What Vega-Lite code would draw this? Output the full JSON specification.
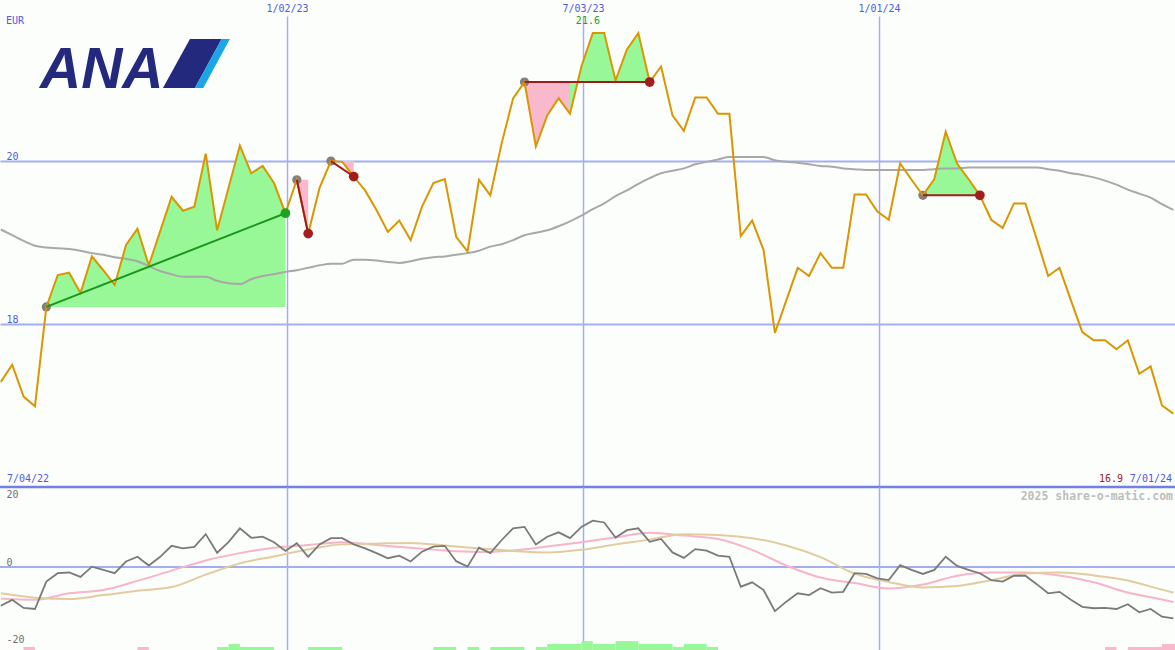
{
  "$schema": "https://vega.github.io/schema/vega-lite/v6.json",
  "background": "#fcfefc",
  "padding": {"left": -4, "top": 0, "right": 0, "bottom": 0},
  "spacing": 0,
  "bounds": "flush",
  "config": {
    "view": {"stroke": null},
    "font": "DejaVu Sans Mono",
    "axis": {"labelFont": "DejaVu Sans Mono", "labelFontSize": 10, "titleFont": "DejaVu Sans Mono"}
  },
  "datasets": {
    "one": [{}],
    "px": [
      {"d":"2022/07/10","p":17.29,"ma":19.16,"m":-10.6},
      {"d":"2022/07/17","p":17.50,"ma":19.09,"m":-9.0},
      {"d":"2022/07/24","p":17.11,"ma":19.02,"m":-11.2},
      {"d":"2022/07/31","p":16.99,"ma":18.96,"m":-11.5},
      {"d":"2022/08/07","p":18.21,"ma":18.94,"m":-4.0},
      {"d":"2022/08/14","p":18.60,"ma":18.93,"m":-1.7},
      {"d":"2022/08/21","p":18.63,"ma":18.92,"m":-1.5},
      {"d":"2022/08/28","p":18.38,"ma":18.90,"m":-2.7},
      {"d":"2022/09/04","p":18.83,"ma":18.87,"m":0.1},
      {"d":"2022/09/11","p":18.66,"ma":18.85,"m":-0.8},
      {"d":"2022/09/18","p":18.48,"ma":18.82,"m":-1.7},
      {"d":"2022/09/25","p":18.97,"ma":18.80,"m":1.5},
      {"d":"2022/10/02","p":19.17,"ma":18.77,"m":2.8},
      {"d":"2022/10/09","p":18.72,"ma":18.71,"m":0.4},
      {"d":"2022/10/16","p":19.14,"ma":18.65,"m":2.8},
      {"d":"2022/10/23","p":19.56,"ma":18.61,"m":5.8},
      {"d":"2022/10/30","p":19.39,"ma":18.58,"m":5.1},
      {"d":"2022/11/06","p":19.44,"ma":18.58,"m":5.5},
      {"d":"2022/11/13","p":20.09,"ma":18.58,"m":9.0},
      {"d":"2022/11/20","p":19.15,"ma":18.53,"m":3.9},
      {"d":"2022/11/27","p":19.67,"ma":18.50,"m":6.8},
      {"d":"2022/12/04","p":20.19,"ma":18.49,"m":10.6},
      {"d":"2022/12/11","p":19.85,"ma":18.55,"m":8.0},
      {"d":"2022/12/18","p":19.94,"ma":18.59,"m":8.3},
      {"d":"2022/12/25","p":19.73,"ma":18.61,"m":6.8},
      {"d":"2023/01/01","p":19.36,"ma":18.64,"m":4.4},
      {"d":"2023/01/08","p":19.77,"ma":18.66,"m":6.5},
      {"d":"2023/01/15","p":19.11,"ma":18.69,"m":2.8},
      {"d":"2023/01/22","p":19.67,"ma":18.72,"m":6.2},
      {"d":"2023/01/29","p":20.00,"ma":18.74,"m":7.9},
      {"d":"2023/02/05","p":19.99,"ma":18.74,"m":7.9},
      {"d":"2023/02/12","p":19.81,"ma":18.79,"m":6.2},
      {"d":"2023/02/19","p":19.64,"ma":18.79,"m":5.1},
      {"d":"2023/02/26","p":19.40,"ma":18.78,"m":3.8},
      {"d":"2023/03/05","p":19.13,"ma":18.76,"m":2.4},
      {"d":"2023/03/12","p":19.27,"ma":18.75,"m":3.1},
      {"d":"2023/03/19","p":19.03,"ma":18.77,"m":1.5},
      {"d":"2023/03/26","p":19.44,"ma":18.80,"m":4.2},
      {"d":"2023/04/02","p":19.73,"ma":18.82,"m":5.6},
      {"d":"2023/04/09","p":19.78,"ma":18.83,"m":5.8},
      {"d":"2023/04/16","p":19.07,"ma":18.85,"m":1.6},
      {"d":"2023/04/23","p":18.89,"ma":18.87,"m":0.1},
      {"d":"2023/04/30","p":19.77,"ma":18.90,"m":5.3},
      {"d":"2023/05/07","p":19.58,"ma":18.95,"m":3.8},
      {"d":"2023/05/14","p":20.22,"ma":18.98,"m":7.4},
      {"d":"2023/05/21","p":20.77,"ma":19.03,"m":10.6},
      {"d":"2023/05/28","p":20.97,"ma":19.09,"m":11.0},
      {"d":"2023/06/04","p":20.18,"ma":19.12,"m":6.2},
      {"d":"2023/06/11","p":20.56,"ma":19.15,"m":8.3},
      {"d":"2023/06/18","p":20.77,"ma":19.20,"m":9.5},
      {"d":"2023/06/25","p":20.58,"ma":19.26,"m":7.9},
      {"d":"2023/07/02","p":21.16,"ma":19.33,"m":11.0},
      {"d":"2023/07/09","p":21.57,"ma":19.41,"m":12.7},
      {"d":"2023/07/16","p":21.57,"ma":19.48,"m":12.2},
      {"d":"2023/07/23","p":20.99,"ma":19.57,"m":8.1},
      {"d":"2023/07/30","p":21.37,"ma":19.64,"m":10.1},
      {"d":"2023/08/06","p":21.57,"ma":19.72,"m":10.6},
      {"d":"2023/08/13","p":20.97,"ma":19.79,"m":6.9},
      {"d":"2023/08/20","p":21.16,"ma":19.85,"m":7.7},
      {"d":"2023/08/27","p":20.56,"ma":19.88,"m":4.0},
      {"d":"2023/09/03","p":20.37,"ma":19.91,"m":2.5},
      {"d":"2023/09/10","p":20.78,"ma":19.96,"m":4.9},
      {"d":"2023/09/17","p":20.78,"ma":19.99,"m":4.5},
      {"d":"2023/09/24","p":20.58,"ma":20.02,"m":3.1},
      {"d":"2023/10/01","p":20.58,"ma":20.05,"m":2.8},
      {"d":"2023/10/08","p":19.08,"ma":20.05,"m":-5.4},
      {"d":"2023/10/15","p":19.27,"ma":20.05,"m":-4.2},
      {"d":"2023/10/22","p":18.91,"ma":20.05,"m":-6.3},
      {"d":"2023/10/29","p":17.89,"ma":20.01,"m":-12.1},
      {"d":"2023/11/05","p":18.29,"ma":19.99,"m":-9.5},
      {"d":"2023/11/12","p":18.69,"ma":19.98,"m":-7.2},
      {"d":"2023/11/19","p":18.59,"ma":19.96,"m":-7.7},
      {"d":"2023/11/26","p":18.87,"ma":19.94,"m":-5.8},
      {"d":"2023/12/03","p":18.69,"ma":19.93,"m":-7.0},
      {"d":"2023/12/10","p":18.69,"ma":19.91,"m":-6.8},
      {"d":"2023/12/17","p":19.59,"ma":19.90,"m":-1.7},
      {"d":"2023/12/24","p":19.59,"ma":19.89,"m":-1.9},
      {"d":"2023/12/31","p":19.38,"ma":19.89,"m":-3.1},
      {"d":"2024/01/07","p":19.28,"ma":19.89,"m":-3.6},
      {"d":"2024/01/14","p":19.97,"ma":19.89,"m":0.5},
      {"d":"2024/01/21","p":19.77,"ma":19.89,"m":-0.8},
      {"d":"2024/01/28","p":19.58,"ma":19.89,"m":-1.9},
      {"d":"2024/02/04","p":19.78,"ma":19.90,"m":-0.8},
      {"d":"2024/02/11","p":20.36,"ma":19.91,"m":2.8},
      {"d":"2024/02/18","p":19.97,"ma":19.91,"m":0.3},
      {"d":"2024/02/25","p":19.78,"ma":19.92,"m":-0.8},
      {"d":"2024/03/03","p":19.58,"ma":19.92,"m":-1.7},
      {"d":"2024/03/10","p":19.28,"ma":19.92,"m":-3.6},
      {"d":"2024/03/17","p":19.18,"ma":19.92,"m":-4.0},
      {"d":"2024/03/24","p":19.48,"ma":19.92,"m":-2.4},
      {"d":"2024/03/31","p":19.48,"ma":19.92,"m":-2.4},
      {"d":"2024/04/07","p":19.04,"ma":19.92,"m":-4.7},
      {"d":"2024/04/14","p":18.59,"ma":19.90,"m":-7.2},
      {"d":"2024/04/21","p":18.69,"ma":19.88,"m":-6.8},
      {"d":"2024/04/28","p":18.29,"ma":19.85,"m":-9.0},
      {"d":"2024/05/05","p":17.90,"ma":19.83,"m":-10.9},
      {"d":"2024/05/12","p":17.80,"ma":19.80,"m":-11.3},
      {"d":"2024/05/19","p":17.80,"ma":19.76,"m":-11.2},
      {"d":"2024/05/26","p":17.69,"ma":19.71,"m":-11.5},
      {"d":"2024/06/02","p":17.80,"ma":19.65,"m":-10.2},
      {"d":"2024/06/09","p":17.39,"ma":19.60,"m":-12.4},
      {"d":"2024/06/16","p":17.48,"ma":19.55,"m":-11.5},
      {"d":"2024/06/23","p":17.00,"ma":19.47,"m":-13.6},
      {"d":"2024/06/30","p":16.90,"ma":19.40,"m":-14.1}
    ],
    "fills": [
      {"s":"A","k":"up","l":18.21,"d":"2022/08/07","p":18.21},
      {"s":"A","k":"up","l":18.21,"d":"2022/08/14","p":18.60},
      {"s":"A","k":"up","l":18.21,"d":"2022/08/21","p":18.63},
      {"s":"A","k":"up","l":18.21,"d":"2022/08/28","p":18.38},
      {"s":"A","k":"up","l":18.21,"d":"2022/09/04","p":18.83},
      {"s":"A","k":"up","l":18.21,"d":"2022/09/11","p":18.66},
      {"s":"A","k":"up","l":18.21,"d":"2022/09/18","p":18.48},
      {"s":"A","k":"up","l":18.21,"d":"2022/09/25","p":18.97},
      {"s":"A","k":"up","l":18.21,"d":"2022/10/02","p":19.17},
      {"s":"A","k":"up","l":18.21,"d":"2022/10/09","p":18.72},
      {"s":"A","k":"up","l":18.21,"d":"2022/10/16","p":19.14},
      {"s":"A","k":"up","l":18.21,"d":"2022/10/23","p":19.56},
      {"s":"A","k":"up","l":18.21,"d":"2022/10/30","p":19.39},
      {"s":"A","k":"up","l":18.21,"d":"2022/11/06","p":19.44},
      {"s":"A","k":"up","l":18.21,"d":"2022/11/13","p":20.09},
      {"s":"A","k":"up","l":18.21,"d":"2022/11/20","p":19.15},
      {"s":"A","k":"up","l":18.21,"d":"2022/11/27","p":19.67},
      {"s":"A","k":"up","l":18.21,"d":"2022/12/04","p":20.19},
      {"s":"A","k":"up","l":18.21,"d":"2022/12/11","p":19.85},
      {"s":"A","k":"up","l":18.21,"d":"2022/12/18","p":19.94},
      {"s":"A","k":"up","l":18.21,"d":"2022/12/25","p":19.73},
      {"s":"A","k":"up","l":18.21,"d":"2023/01/01","p":19.36},
      {"s":"B","k":"dn","l":19.77,"d":"2023/01/08","p":19.77},
      {"s":"B","k":"dn","l":19.77,"d":"2023/01/15","p":19.11},
      {"s":"C","k":"dn","l":20.00,"d":"2023/01/29","p":20.00},
      {"s":"C","k":"dn","l":20.00,"d":"2023/02/05","p":19.99},
      {"s":"C","k":"dn","l":20.00,"d":"2023/02/12","p":19.81},
      {"s":"D","k":"dn","l":20.97,"d":"2023/05/28","p":20.97},
      {"s":"D","k":"dn","l":20.97,"d":"2023/06/04","p":20.18},
      {"s":"D","k":"dn","l":20.97,"d":"2023/06/11","p":20.56},
      {"s":"D","k":"dn","l":20.97,"d":"2023/06/18","p":20.77},
      {"s":"D","k":"dn","l":20.97,"d":"2023/06/25","p":20.58},
      {"s":"E","k":"up","l":20.97,"d":"2023/06/25","p":20.58},
      {"s":"E","k":"up","l":20.97,"d":"2023/07/02","p":21.16},
      {"s":"E","k":"up","l":20.97,"d":"2023/07/09","p":21.57},
      {"s":"E","k":"up","l":20.97,"d":"2023/07/16","p":21.57},
      {"s":"E","k":"up","l":20.97,"d":"2023/07/23","p":20.99},
      {"s":"E","k":"up","l":20.97,"d":"2023/07/30","p":21.37},
      {"s":"E","k":"up","l":20.97,"d":"2023/08/06","p":21.57},
      {"s":"E","k":"up","l":20.97,"d":"2023/08/13","p":20.97},
      {"s":"F","k":"up","l":19.58,"d":"2024/01/28","p":19.58},
      {"s":"F","k":"up","l":19.58,"d":"2024/02/04","p":19.78},
      {"s":"F","k":"up","l":19.58,"d":"2024/02/11","p":20.36},
      {"s":"F","k":"up","l":19.58,"d":"2024/02/18","p":19.97},
      {"s":"F","k":"up","l":19.58,"d":"2024/02/25","p":19.78},
      {"s":"F","k":"up","l":19.58,"d":"2024/03/03","p":19.58}
    ],
    "trends": [
      {"d1":"2022/08/07","p1":18.21,"d2":"2023/01/01","p2":19.36,"c":"#1a961a"},
      {"d1":"2023/01/08","p1":19.77,"d2":"2023/01/15","p2":19.11,"c":"#a01c1c"},
      {"d1":"2023/01/29","p1":20.00,"d2":"2023/02/12","p2":19.81,"c":"#a01c1c"},
      {"d1":"2023/05/28","p1":20.97,"d2":"2023/08/13","p2":20.97,"c":"#a01c1c"},
      {"d1":"2024/01/28","p1":19.58,"d2":"2024/03/03","p2":19.58,"c":"#a01c1c"}
    ],
    "dots": [
      {"d":"2022/08/07","p":18.21,"c":"#808080","g":"start"},
      {"d":"2023/01/08","p":19.77,"c":"#808080","g":"start"},
      {"d":"2023/01/29","p":20.00,"c":"#808080","g":"start"},
      {"d":"2023/05/28","p":20.97,"c":"#808080","g":"start"},
      {"d":"2024/01/28","p":19.58,"c":"#808080","g":"start"},
      {"d":"2023/01/01","p":19.36,"c":"#22a022","g":"end"},
      {"d":"2023/01/15","p":19.11,"c":"#a51c1c","g":"end"},
      {"d":"2023/02/12","p":19.81,"c":"#a51c1c","g":"end"},
      {"d":"2023/08/13","p":20.97,"c":"#a51c1c","g":"end"},
      {"d":"2024/03/03","p":19.58,"c":"#a51c1c","g":"end"}
    ],
    "osc": [
      {"d":"2022/07/10","a":-8.6,"b":-7.2},
      {"d":"2022/07/31","a":-9.0,"b":-8.4},
      {"d":"2022/08/21","a":-7.2,"b":-8.8},
      {"d":"2022/09/11","a":-6.3,"b":-7.7},
      {"d":"2022/10/02","a":-3.8,"b":-6.5},
      {"d":"2022/10/23","a":-1.0,"b":-5.5},
      {"d":"2022/11/13","a":1.8,"b":-2.1},
      {"d":"2022/12/04","a":3.8,"b":1.0},
      {"d":"2022/12/25","a":5.3,"b":2.9},
      {"d":"2023/01/15","a":6.0,"b":4.8},
      {"d":"2023/02/05","a":6.8,"b":6.2},
      {"d":"2023/02/26","a":6.0,"b":6.4},
      {"d":"2023/03/19","a":5.3,"b":6.6},
      {"d":"2023/04/09","a":4.5,"b":5.9},
      {"d":"2023/04/30","a":4.1,"b":5.1},
      {"d":"2023/05/21","a":4.5,"b":4.4},
      {"d":"2023/06/11","a":5.6,"b":4.0},
      {"d":"2023/07/02","a":6.8,"b":4.7},
      {"d":"2023/07/23","a":8.1,"b":6.2},
      {"d":"2023/08/13","a":9.4,"b":7.5},
      {"d":"2023/09/03","a":8.6,"b":9.0},
      {"d":"2023/09/24","a":7.7,"b":8.8},
      {"d":"2023/10/15","a":4.7,"b":7.9},
      {"d":"2023/11/05","a":0.4,"b":5.9},
      {"d":"2023/11/26","a":-2.9,"b":2.7},
      {"d":"2023/12/17","a":-4.4,"b":-1.8},
      {"d":"2024/01/07","a":-5.9,"b":-4.1},
      {"d":"2024/01/28","a":-4.8,"b":-5.6},
      {"d":"2024/02/18","a":-2.4,"b":-5.2},
      {"d":"2024/03/10","a":-1.5,"b":-3.6},
      {"d":"2024/03/31","a":-1.5,"b":-1.8},
      {"d":"2024/04/21","a":-2.3,"b":-1.5},
      {"d":"2024/05/12","a":-4.2,"b":-2.3},
      {"d":"2024/06/02","a":-7.0,"b":-3.7},
      {"d":"2024/06/23","a":-8.9,"b":-6.2},
      {"d":"2024/06/30","a":-9.6,"b":-7.0}
    ],
    "hist": [
      {"d":"2022/07/24","d2":"2022/07/31","t":-21.92,"c":"#f9b8cb"},
      {"d":"2022/10/02","d2":"2022/10/09","t":-21.92,"c":"#f9b8cb"},
      {"d":"2022/11/20","d2":"2022/11/27","t":-21.92,"c":"#98f898"},
      {"d":"2022/11/27","d2":"2022/12/04","t":-21.1,"c":"#98f898"},
      {"d":"2022/12/04","d2":"2022/12/25","t":-21.92,"c":"#98f898"},
      {"d":"2023/01/15","d2":"2023/02/05","t":-21.92,"c":"#98f898"},
      {"d":"2023/04/02","d2":"2023/04/16","t":-21.92,"c":"#98f898"},
      {"d":"2023/04/23","d2":"2023/04/30","t":-21.92,"c":"#98f898"},
      {"d":"2023/05/07","d2":"2023/05/28","t":-21.92,"c":"#98f898"},
      {"d":"2023/06/04","d2":"2023/06/11","t":-21.92,"c":"#98f898"},
      {"d":"2023/06/11","d2":"2023/07/02","t":-21.1,"c":"#98f898"},
      {"d":"2023/07/02","d2":"2023/07/09","t":-20.3,"c":"#98f898"},
      {"d":"2023/07/09","d2":"2023/07/23","t":-21.1,"c":"#98f898"},
      {"d":"2023/07/23","d2":"2023/08/06","t":-20.3,"c":"#98f898"},
      {"d":"2023/08/06","d2":"2023/08/27","t":-21.1,"c":"#98f898"},
      {"d":"2023/08/27","d2":"2023/09/03","t":-21.92,"c":"#98f898"},
      {"d":"2023/09/03","d2":"2023/09/17","t":-21.1,"c":"#98f898"},
      {"d":"2023/09/17","d2":"2023/09/24","t":-21.92,"c":"#98f898"},
      {"d":"2024/05/19","d2":"2024/05/26","t":-21.92,"c":"#f9b8cb"},
      {"d":"2024/06/02","d2":"2024/06/23","t":-21.92,"c":"#f9b8cb"},
      {"d":"2024/06/23","d2":"2024/07/01","t":-21.1,"c":"#f9b8cb"}
    ]
  },
  "vconcat": [
    {
      "width": 1175,
      "height": 471,
      "layer": [
        {
          "data": {"name": "fills"},
          "mark": {"type": "area", "opacity": 1},
          "encoding": {
            "x": {"field": "d", "type": "temporal",
              "scale": {"domain": [{"year":2022,"month":7,"date":9,"hours":12}, {"year":2024,"month":7,"date":1}]},
              "axis": {"orient": "top", "title": null, "values": [{"year":2023,"month":1,"date":2},{"year":2023,"month":7,"date":3},{"year":2024,"month":1,"date":1}],
                "format": "%-m/%d/%y", "labelColor": "#4f5be0", "labelFontSize": 10, "labelPadding": 3, "ticks": false, "tickSize": 0, "domain": false,
                "grid": true, "gridColor": "#a3aef0", "gridWidth": 1.5, "minExtent": 16, "maxExtent": 16}},
            "y": {"field": "p", "type": "quantitative",
              "scale": {"domain": [16, 21.78], "zero": false, "nice": false},
              "axis": {"orient": "left", "values": [18, 20], "labelExpr": "'' + datum.value", "title": null,
                "labelColor": "#4f5be0", "labelFontSize": 10, "labelAlign": "left", "labelBaseline": "bottom", "labelPadding": -6,
                "ticks": false, "tickSize": 0, "domain": false, "grid": true, "gridColor": "#a3aef0", "gridWidth": 2, "minExtent": 0, "maxExtent": 0}},
            "y2": {"field": "l"},
            "detail": {"field": "s"},
            "color": {"field": "k", "type": "nominal", "scale": {"domain": ["up", "dn"], "range": ["#98f898", "#f9b8cb"]}, "legend": null}
          }
        },
        {
          "data": {"name": "px"},
          "mark": {"type": "line", "color": "#a8a8a8", "strokeWidth": 2, "interpolate": "monotone"},
          "encoding": {
            "x": {"field": "d", "type": "temporal"},
            "y": {"field": "ma", "type": "quantitative"}
          }
        },
        {
          "data": {"name": "dots"},
          "transform": [{"filter": "datum.g == 'start'"}],
          "mark": {"type": "circle", "size": 85, "opacity": 1},
          "encoding": {
            "x": {"field": "d", "type": "temporal"},
            "y": {"field": "p", "type": "quantitative"},
            "color": {"field": "c", "type": "nominal", "scale": null}
          }
        },
        {
          "data": {"name": "px"},
          "mark": {"type": "line", "color": "#da9600", "strokeWidth": 2},
          "encoding": {
            "x": {"field": "d", "type": "temporal"},
            "y": {"field": "p", "type": "quantitative"}
          }
        },
        {
          "data": {"name": "trends"},
          "mark": {"type": "rule", "strokeWidth": 2},
          "encoding": {
            "x": {"field": "d1", "type": "temporal"},
            "x2": {"field": "d2"},
            "y": {"field": "p1", "type": "quantitative"},
            "y2": {"field": "p2"},
            "color": {"field": "c", "type": "nominal", "scale": null}
          }
        },
        {
          "data": {"name": "dots"},
          "transform": [{"filter": "datum.g == 'end'"}],
          "mark": {"type": "circle", "size": 95, "opacity": 1},
          "encoding": {
            "x": {"field": "d", "type": "temporal"},
            "y": {"field": "p", "type": "quantitative"},
            "color": {"field": "c", "type": "nominal", "scale": null}
          }
        },
        {
          "data": {"name": "one"},
          "mark": {"type": "rule", "color": "#7080e8", "strokeWidth": 2.5},
          "encoding": {"y": {"datum": 16}}
        },
        {
          "data": {"name": "one"},
          "mark": {"type": "text", "align": "left", "baseline": "middle", "dx": 6, "dy": 5, "color": "#4f5be0", "fontSize": 10},
          "encoding": {
            "x": {"datum": {"year":2022,"month":7,"date":9,"hours":12}, "type": "temporal"},
            "y": {"datum": 21.78},
            "text": {"value": "EUR"}
          }
        },
        {
          "data": {"name": "one"},
          "mark": {"type": "text", "align": "left", "baseline": "bottom", "dx": 7, "dy": -3, "color": "#4f5be0", "fontSize": 10},
          "encoding": {
            "x": {"datum": {"year":2022,"month":7,"date":9,"hours":12}, "type": "temporal"},
            "y": {"datum": 16},
            "text": {"value": "7/04/22"}
          }
        },
        {
          "data": {"name": "one"},
          "mark": {"type": "text", "align": "right", "baseline": "bottom", "dx": -3, "dy": -3, "color": "#4f5be0", "fontSize": 10},
          "encoding": {
            "x": {"datum": {"year":2024,"month":7,"date":1}, "type": "temporal"},
            "y": {"datum": 16},
            "text": {"value": "7/01/24"}
          }
        },
        {
          "data": {"name": "one"},
          "mark": {"type": "text", "align": "right", "baseline": "bottom", "dx": -52, "dy": -3, "color": "#a01c1c", "fontSize": 10},
          "encoding": {
            "x": {"datum": {"year":2024,"month":7,"date":1}, "type": "temporal"},
            "y": {"datum": 16},
            "text": {"value": "16.9"}
          }
        },
        {
          "data": {"name": "one"},
          "mark": {"type": "text", "align": "center", "baseline": "middle", "dy": -12, "color": "#22a022", "fontSize": 10},
          "encoding": {
            "x": {"datum": {"year":2023,"month":7,"date":6}, "type": "temporal"},
            "y": {"datum": 21.57},
            "text": {"value": "21.6"}
          }
        },
        {
          "data": {"name": "one"},
          "mark": {"type": "text", "align": "left", "baseline": "alphabetic", "font": "Liberation Sans", "fontStyle": "italic", "fontWeight": "bold", "fontSize": 57, "color": "#232a7e"},
          "encoding": {
            "x": {"datum": {"year":2022,"month":8,"date":3,"hours":2}, "type": "temporal"},
            "y": {"datum": 20.896},
            "text": {"value": "ANA"}
          }
        },
        {
          "data": {"name": "one"},
          "mark": {"type": "point", "filled": true, "opacity": 1, "size": 4489, "color": "#232a7e", "shape": "M-0.194,-0.731L0.752,-0.731L-0.045,0.731L-1,0.731Z"},
          "encoding": {
            "x": {"datum": {"year":2022,"month":11,"date":7,"hours":7}, "type": "temporal"},
            "y": {"datum": 21.196}
          }
        },
        {
          "data": {"name": "one"},
          "mark": {"type": "point", "filled": true, "opacity": 1, "size": 4489, "color": "#19a6e8", "shape": "M0.752,-0.731L1,-0.731L0.203,0.731L-0.045,0.731Z"},
          "encoding": {
            "x": {"datum": {"year":2022,"month":11,"date":7,"hours":7}, "type": "temporal"},
            "y": {"datum": 21.196}
          }
        }
      ]
    },
    {
      "width": 1175,
      "height": 163,
      "layer": [
        {
          "data": {"name": "hist"},
          "mark": {"type": "rect"},
          "encoding": {
            "x": {"field": "d", "type": "temporal",
              "scale": {"domain": [{"year":2022,"month":7,"date":9,"hours":12}, {"year":2024,"month":7,"date":1}]},
              "axis": {"orient": "bottom", "title": null, "values": [{"year":2023,"month":1,"date":2},{"year":2023,"month":7,"date":3},{"year":2024,"month":1,"date":1}],
                "labels": false, "ticks": false, "tickSize": 0, "domain": false, "grid": true, "gridColor": "#a3aef0", "gridWidth": 1.5, "minExtent": 0, "maxExtent": 0}},
            "x2": {"field": "d2"},
            "y": {"field": "t", "type": "quantitative",
              "scale": {"domain": [-22.74, 21.92], "zero": false, "nice": false},
              "axis": {"orient": "left", "values": [-20, 0, 20], "labelExpr": "'' + datum.value", "title": null,
                "labelColor": "#707070", "labelFontSize": 10, "labelAlign": "left",
                "labelBaseline": {"condition": {"test": "datum.value == 0", "value": "bottom"}, "value": "middle"},
                "labelPadding": -6, "ticks": false, "tickSize": 0, "domain": false, "grid": false, "minExtent": 0, "maxExtent": 0}},
            "y2": {"datum": -22.74},
            "color": {"field": "c", "type": "nominal", "scale": null}
          }
        },
        {
          "data": {"name": "one"},
          "mark": {"type": "rule", "color": "#a3aef0", "strokeWidth": 2},
          "encoding": {"y": {"datum": 0}}
        },
        {
          "data": {"name": "osc"},
          "mark": {"type": "line", "color": "#f8b4c8", "strokeWidth": 2, "interpolate": "monotone"},
          "encoding": {
            "x": {"field": "d", "type": "temporal"},
            "y": {"field": "a", "type": "quantitative"}
          }
        },
        {
          "data": {"name": "osc"},
          "mark": {"type": "line", "color": "#e2cc9e", "strokeWidth": 2, "interpolate": "monotone"},
          "encoding": {
            "x": {"field": "d", "type": "temporal"},
            "y": {"field": "b", "type": "quantitative"}
          }
        },
        {
          "data": {"name": "px"},
          "mark": {"type": "line", "color": "#7a7a7a", "strokeWidth": 1.8},
          "encoding": {
            "x": {"field": "d", "type": "temporal"},
            "y": {"field": "m", "type": "quantitative"}
          }
        },
        {
          "data": {"name": "one"},
          "mark": {"type": "text", "align": "right", "baseline": "middle", "dx": -2, "dy": 10, "color": "#bdbdbd", "fontSize": 11.5, "fontWeight": "bold"},
          "encoding": {
            "x": {"datum": {"year":2024,"month":7,"date":1}, "type": "temporal"},
            "y": {"datum": 21.92},
            "text": {"value": "2025 share-o-matic.com"}
          }
        }
      ]
    }
  ]
}
